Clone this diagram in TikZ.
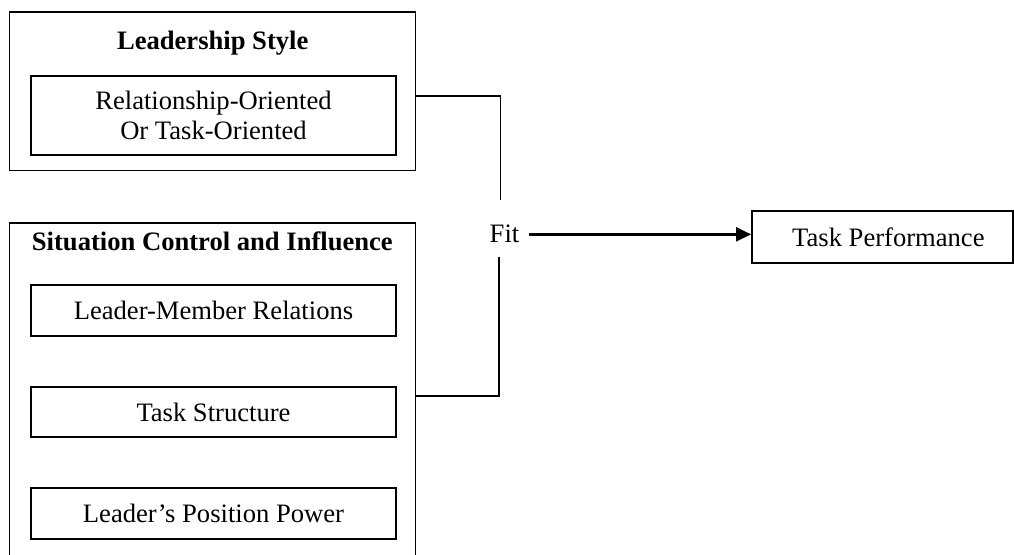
\documentclass[tikz,border=0pt]{standalone}
\usepackage{fontspec}
\setmainfont{Liberation Serif}
\usetikzlibrary{arrows.meta,calc}
\begin{document}
\begin{tikzpicture}[x=1pt,y=-1pt,
  every node/.style={font=\fontsize{26.6}{30}\selectfont},
  frame/.style={draw,line width=1.7pt,inner sep=0pt,rectangle},
  innerbox/.style={frame,minimum width=365pt,align=center},
  title/.style={anchor=base,font=\fontsize{26.6}{30}\selectfont\bfseries,inner sep=0pt},
  link/.style={line width=1.7pt},
  arr/.style={line width=2.4pt,-{Triangle[length=15pt,width=14pt]}}]
\clip (0,0) rectangle (1014,554);
\fill[white] (0,0) rectangle (1014,554);
% Leadership style group
\node[frame,minimum width=406pt,minimum height=158.5pt] (ls) at (212.5,91.25) {};
\node[title] (lst) at (212.7,49) {Leadership Style};
\node[innerbox,minimum height=79pt] (ro) at (213.5,115.5) {Relationship-Oriented\\Or Task-Oriented};
% Situation control group
\node[frame,minimum width=406pt,minimum height=377pt] (sc) at (212.5,411.5) {};
\node[title] (sct) at (212.4,250) {Situation Control and Influence};
\node[innerbox,minimum height=51pt] (lmr) at (213.5,310.5) {Leader-Member Relations};
\node[innerbox,minimum height=50pt] (ts) at (213.5,412) {Task Structure};
\node[innerbox,minimum height=51pt] (lpp) at (213.5,513.5) {Leader’s Position Power};
% Fit and outcome
\node[anchor=base,inner sep=0pt] (fit) at (504.5,242) {Fit};
\node[frame,minimum width=261pt,minimum height=52pt] (tp) at (882.4,237) {\hspace*{12pt}Task Performance};
% connectors
\coordinate (j1) at (500.5,200);
\coordinate (j2) at (499,257);
\coordinate (k2) at (499,396);
\coordinate (fa) at ([xshift=10pt,yshift=-1pt]fit.east);
\draw[link] ([yshift=-5pt]ls.east) -| (j1);
\draw[link] (j2) -- (k2) -- (sc.east |- k2);
\draw[arr] (fa) -- (tp.west |- fa);
\end{tikzpicture}
\end{document}
